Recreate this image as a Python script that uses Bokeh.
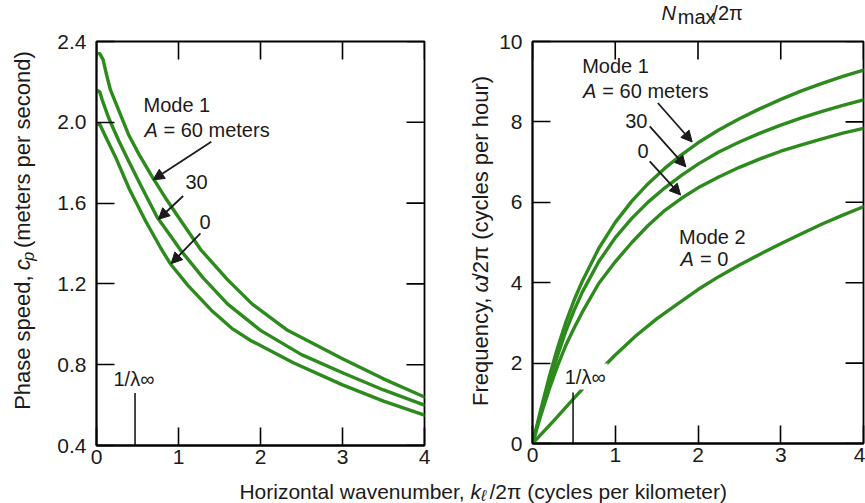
from math import pi
from bokeh.plotting import figure
from bokeh.models import FixedTicker, Label, Arrow, NormalHead, Range1d
from bokeh.layouts import column, row
from bokeh.embed import file_html
from bokeh.resources import INLINE

# ---------------- data ----------------
# Left panel: phase speed c_p (m/s) vs horizontal wavenumber (cycles/km), Mode 1
k_cp_60 = [0, 0.04, 0.08, 0.12, 0.17, 0.27, 0.39, 0.52, 0.68, 0.85, 1.0, 1.27, 1.6, 1.9, 2.33, 3.0, 3.5, 4.0]
cp_60 = [2.34, 2.34, 2.31, 2.24, 2.16, 2.06, 1.94, 1.84, 1.73, 1.62, 1.53, 1.37, 1.22, 1.10, 0.97, 0.83, 0.73, 0.64]
k_cp_30 = [0, 0.04, 0.07, 0.15, 0.27, 0.39, 0.55, 0.74, 0.9, 1.02, 1.3, 1.6, 2.0, 2.5, 3.0, 3.5, 4.0]
cp_30 = [2.16, 2.15, 2.11, 2.02, 1.91, 1.81, 1.68, 1.53, 1.44, 1.37, 1.23, 1.10, 0.97, 0.85, 0.76, 0.675, 0.60]
k_cp_0 = [0, 0.04, 0.11, 0.23, 0.4, 0.6, 0.78, 0.9, 1.12, 1.4, 1.65, 1.88, 2.4, 3.0, 3.5, 4.0]
cp_0 = [1.99, 1.99, 1.93, 1.83, 1.67, 1.51, 1.38, 1.30, 1.19, 1.07, 0.98, 0.92, 0.81, 0.70, 0.62, 0.55]

# Right panel: frequency omega/2pi (cycles/hour)
k_f = [0, 0.1, 0.2, 0.3, 0.4, 0.5, 0.6, 0.8, 1.0, 1.2, 1.4, 1.6, 1.8, 2.0, 2.25, 2.5, 2.75, 3.0, 3.25, 3.5, 3.75, 4.0]
f_60 = [0, 0.84, 1.64, 2.36, 3.0, 3.55, 4.03, 4.85, 5.5, 6.03, 6.47, 6.85, 7.18, 7.48, 7.8, 8.08, 8.33, 8.56, 8.77, 8.96, 9.13, 9.29]
f_30 = [0, 0.77, 1.5, 2.17, 2.78, 3.3, 3.76, 4.52, 5.12, 5.6, 6.01, 6.36, 6.67, 6.95, 7.25, 7.5, 7.72, 7.92, 8.1, 8.26, 8.41, 8.55]
f_0 = [0, 0.70, 1.34, 1.92, 2.43, 2.86, 3.26, 3.98, 4.52, 5.0, 5.43, 5.8, 6.1, 6.36, 6.63, 6.87, 7.08, 7.27, 7.43, 7.58, 7.72, 7.84]
k_f2 = [0, 0.25, 0.5, 0.75, 1.0, 1.25, 1.5, 1.75, 2.0, 2.25, 2.5, 2.75, 3.0, 3.25, 3.5, 3.75, 4.0]
f_mode2 = [0, 0.55, 1.12, 1.68, 2.2, 2.68, 3.1, 3.47, 3.83, 4.15, 4.44, 4.71, 4.97, 5.22, 5.46, 5.68, 5.89]

# ticks
x_ticks = [0, 1, 2, 3, 4]
x_tick_labels = ["0", "1", "2", "3", "4"]
cp_ticks = [0.4, 0.8, 1.2, 1.6, 2.0, 2.4]
cp_tick_labels = ["0.4", "0.8", "1.2", "1.6", "2.0", "2.4"]
f_ticks = [0, 2, 4, 6, 8, 10]
f_tick_labels = ["0", "2", "4", "6", "8", "10"]

# 1/lambda_inf wavenumber markers
lambda_inf_left = 0.47
lambda_inf_right = 0.49

# ---------------- styling ----------------
GREEN = "#2d8a1c"
INK = "#1b1b1b"
FONT = "Liberation Sans"
TICK_FS = "21px"
ANN_FS = "20px"
AX_FS = "22px"
TICK_LEN = 18  # px, inward


def style_axis(ax, ticks, labels, standoff):
    ax.ticker = FixedTicker(ticks=ticks)
    ax.major_tick_in = TICK_LEN
    ax.major_tick_out = 0
    ax.minor_tick_line_color = None
    ax.major_tick_line_width = 1.6
    ax.major_tick_line_color = "black"
    ax.axis_line_width = 1.8
    ax.axis_line_color = "black"
    ax.axis_label = None
    ax.major_label_text_font = FONT
    ax.major_label_text_font_size = TICK_FS
    ax.major_label_text_color = INK
    ax.major_label_standoff = standoff
    ax.major_label_overrides = {t: l for t, l in zip(ticks, labels)}


def label(p, x, y, text, size=ANN_FS, style="normal", align="left", angle=0.0, bg=None):
    kw = {}
    if bg is not None:
        kw = dict(background_fill_color=bg, padding=2)
    p.add_layout(Label(x=x, y=y, text=text, text_font=FONT, text_font_size=size,
                       text_font_style=style, text_color=INK, text_align=align,
                       text_baseline="alphabetic", angle=angle, **kw))


def arrow(p, x0, y0, x1, y1):
    p.add_layout(Arrow(end=NormalHead(size=11, fill_color=INK, line_color=INK, line_width=1),
                       x_start=x0, y_start=y0, x_end=x1, y_end=y1,
                       line_width=1.8, line_color=INK))


def panel(width, height, xr, yr, mbl, mbr, mbt, mbb):
    p = figure(width=width, height=height, x_range=Range1d(*xr), y_range=Range1d(*yr),
               output_backend="svg", toolbar_location=None, title=None,
               min_border_left=mbl, min_border_right=mbr, min_border_top=mbt, min_border_bottom=mbb)
    p.grid.visible = False
    p.outline_line_color = "black"
    p.outline_line_width = 1.8
    p.background_fill_color = "white"
    p.border_fill_color = "white"
    fw = width - mbl - mbr
    fh = height - mbt - mbb
    ty = TICK_LEN * (yr[1] - yr[0]) / fh
    tx = TICK_LEN * (xr[1] - xr[0]) / fw
    return p, tx, ty


def text_box(width, height):
    p = figure(width=width, height=height, x_range=Range1d(0, width), y_range=Range1d(0, height),
               output_backend="svg", toolbar_location=None, title=None, min_border=0,
               x_axis_type=None, y_axis_type=None)
    p.grid.visible = False
    p.outline_line_color = None
    p.background_fill_color = "white"
    p.border_fill_color = "white"
    return p


ROW_H = 476
TITLE_H = 28

# ---------------- left panel ----------------
cp_range = (cp_ticks[0], cp_ticks[-1])
x_range = (x_ticks[0], x_ticks[-1])
p1, tx1, ty1 = panel(396, ROW_H, x_range, cp_range, 52, 16, 41, 31)
style_axis(p1.xaxis[0], x_ticks, x_tick_labels, 4)
style_axis(p1.yaxis[0], cp_ticks, cp_tick_labels, 10)
p1.segment(x0=x_ticks, y0=[cp_range[1]] * len(x_ticks), x1=x_ticks,
           y1=[cp_range[1] - ty1] * len(x_ticks), line_color="black", line_width=1.6)
p1.segment(x0=[x_range[1]] * len(cp_ticks), y0=cp_ticks, x1=[x_range[1] - tx1] * len(cp_ticks),
           y1=cp_ticks, line_color="black", line_width=1.6)

for kx, cy in [(k_cp_60, cp_60), (k_cp_30, cp_30), (k_cp_0, cp_0)]:
    p1.line(kx, cy, line_width=3.4, line_color=GREEN, line_join="round", line_cap="round")

p1.segment(x0=[lambda_inf_left], y0=[0.4], x1=[lambda_inf_left], y1=[0.66],
           line_color=INK, line_width=1.6)
label(p1, 0.207, 0.729, "1/λ∞")

label(p1, 0.573, 2.087, "Mode 1")
label(p1, 0.585, 1.962, "A", style="italic")
label(p1, 0.817, 1.962, "= 60 meters")
label(p1, 1.085, 1.704, "30")
label(p1, 1.256, 1.505, "0")
arrow(p1, 1.40, 1.904, 0.69, 1.715)
arrow(p1, 1.057, 1.635, 0.755, 1.52)
arrow(p1, 1.268, 1.45, 0.91, 1.30)

# ---------------- left y title ----------------
yl1 = text_box(44, ROW_H)
label(yl1, 22, 200.5, "Phase speed,", size=AX_FS, align="right", angle=pi / 2)
label(yl1, 22, 206.6, "c", size=AX_FS, style="italic", angle=pi / 2)
label(yl1, 28, 217.6, "p", size="16px", style="italic", angle=pi / 2)
label(yl1, 22, 232.6, "(meters per second)", size=AX_FS, angle=pi / 2)

# ---------------- right panel ----------------
f_range = (f_ticks[0], f_ticks[-1])
p2, tx2, ty2 = panel(369, ROW_H - TITLE_H, x_range, f_range, 35, 2, 41 - TITLE_H, 33)
style_axis(p2.xaxis[0], x_ticks, x_tick_labels, 4)
style_axis(p2.yaxis[0], f_ticks, f_tick_labels, 10)
p2.segment(x0=x_ticks, y0=[f_range[1]] * len(x_ticks), x1=x_ticks,
           y1=[f_range[1] - ty2] * len(x_ticks), line_color="black", line_width=1.6)
p2.segment(x0=[x_range[1]] * len(f_ticks), y0=f_ticks, x1=[x_range[1] - tx2] * len(f_ticks),
           y1=f_ticks, line_color="black", line_width=1.6)

for fy in [f_60, f_30, f_0]:
    p2.line(k_f, fy, line_width=3.4, line_color=GREEN, line_join="round", line_cap="round")
p2.line(k_f2, f_mode2, line_width=3.4, line_color=GREEN, line_join="round", line_cap="round")

p2.segment(x0=[lambda_inf_right], y0=[0], x1=[lambda_inf_right], y1=[1.27],
           line_color=INK, line_width=1.6)
label(p2, 0.365, 1.664, "1/λ∞", bg="white")

label(p2, 0.60, 9.384, "Mode 1")
label(p2, 0.61, 8.764, "A", style="italic")
label(p2, 0.844, 8.764, "= 60 meters")
label(p2, 1.12, 8.024, "30")
label(p2, 1.27, 7.274, "0")
arrow(p2, 1.515, 8.47, 1.93, 7.50)
arrow(p2, 1.417, 7.89, 1.854, 6.88)
arrow(p2, 1.417, 7.02, 1.79, 6.18)
label(p2, 1.77, 5.134, "Mode 2")
label(p2, 1.79, 4.594, "A", style="italic")
label(p2, 2.024, 4.594, "= 0")

# N_max / 2pi above the right frame
tf = text_box(369, TITLE_H)
label(tf, 143.7, 15.5, "N", style="italic")
label(tf, 162, 11.5, "max")
label(tf, 200.5, 15.5, "/2π")

# ---------------- right y title ----------------
yl2 = text_box(56, ROW_H)
label(yl2, 40, 174.25, "Frequency,", size=AX_FS, align="right", angle=pi / 2)
label(yl2, 40, 180.35, "ω", size=AX_FS, style="italic", angle=pi / 2)
label(yl2, 40, 195.75, "/2π (cycles per hour)", size=AX_FS, angle=pi / 2)

# ---------------- shared x title ----------------
p3 = text_box(865, 27)
XL_FS = "21px"
label(p3, 464.2, 12, "Horizontal wavenumber,", size=XL_FS, align="right")
label(p3, 470, 12, "k", size=XL_FS, style="italic")
label(p3, 480.5, 8, "ℓ", size="16px", style="italic")
label(p3, 489, 12, "/2π (cycles per kilometer)", size=XL_FS)

layout = column(row(yl1, p1, yl2, column(tf, p2)), p3)
open("out.html", "w").write(file_html(layout, INLINE))
